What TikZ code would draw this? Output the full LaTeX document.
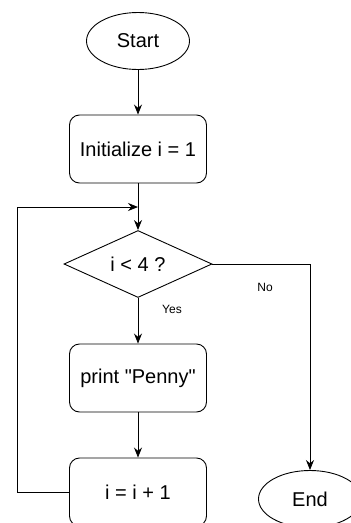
\documentclass[tikz,border=0pt]{standalone}
\usepackage{fontspec}
\setmainfont{Liberation Sans}[Ligatures=TeXOff]
\usetikzlibrary{shapes.geometric, arrows.meta, positioning}

\begin{document}
\begin{tikzpicture}[
  x=1pt, y=-1pt, % one unit is one pixel of the sketch
  line width=0.9pt,
  terminal/.style={draw, ellipse, minimum width=103pt, minimum height=57pt, inner sep=0pt, font=\fontsize{20}{24}\selectfont},
  process/.style={draw, rectangle, rounded corners=10pt, minimum width=137pt, minimum height=68pt, font=\fontsize{20}{24}\selectfont},
  decision/.style={draw, diamond, aspect=2.2, minimum width=148pt, minimum height=67pt, inner sep=0pt, font=\fontsize{20}{24}\selectfont},
  flow/.style={-{Stealth[length=10pt, width=8pt]}},
  edgelabel/.style={font=\fontsize{12}{14}\selectfont}
]
\useasboundingbox (0,0) rectangle (351,523);
\clip (0,0) rectangle (351,523);

% Define the flow chart nodes
\node[terminal] (start) at (138,41) {Start};
\node[process] (init) at (138,149) {Initialize i = 1};
\node[decision] (cond) at (138,264) {i < 4 ?};
\node[process] (print) at (138,378) {print "Penny"};
\node[process] (inc) at (138,492) {i = i + 1};
\node[terminal] (finish) at (310,499) {End};
\coordinate (join) at (138,207);
\coordinate (back) at (17,207);

% Connect them
\draw[flow] (start) -- (init);
\draw[flow] (init) -- (cond);
\draw[flow] (cond) -- node[edgelabel, pos=0.25, xshift=34pt] {Yes} (print);
\draw[flow] (print) -- (inc);
\draw[flow] (cond.east) -| node[edgelabel, pos=0.27, yshift=-23pt] {No} (finish.north);
\draw[flow] (inc.west) -| (back) -- (join);
\end{tikzpicture}
\end{document}
